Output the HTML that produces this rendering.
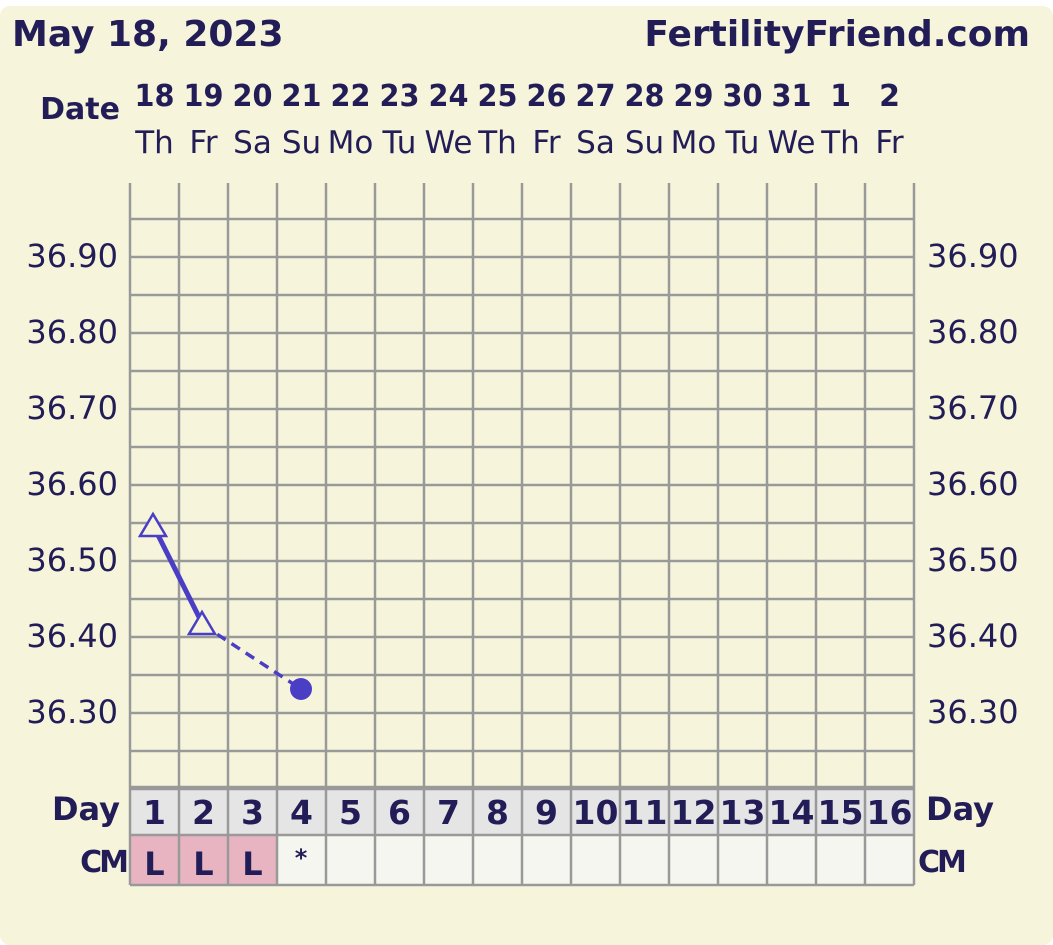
<!DOCTYPE html>
<html><head><style>
body{margin:0;background:#fff;}
svg{display:block}
</style></head><body>
<svg width="1053" height="945" xmlns="http://www.w3.org/2000/svg" font-family="'DejaVu Sans', 'Liberation Sans', sans-serif">
<rect x="0" y="0" width="1053" height="945" fill="#fff"/>
<rect x="0" y="6" width="1053" height="939" rx="10" fill="#f7f4dc"/>
<g fill="#221d56">
<text x="12" y="46" font-size="36" font-weight="bold">May 18, 2023</text>
<text x="1030" y="46" font-size="36" font-weight="bold" text-anchor="end">FertilityFriend.com</text>
<text x="120" y="119" font-size="30" font-weight="bold" text-anchor="end">Date</text>
</g>
<g id="dates" fill="#221d56" font-size="29" text-anchor="middle"></g>
<g id="grid"></g>
<g id="labels" fill="#221d56" font-size="32"></g>
<polyline points="154,527 203,625" stroke="#4a3fc4" stroke-width="5" fill="none"/>
<polyline points="203,625 301,689" stroke="#4a3fc4" stroke-width="3.5" fill="none" stroke-dasharray="10,7"/>
<polygon points="153,514 140,536 166,536" fill="#f7f4dc" stroke="#4a3fc4" stroke-width="2.5"/>
<polygon points="202,612 189,634 215,634" fill="#f7f4dc" stroke="#4a3fc4" stroke-width="2.5"/>
<circle cx="301" cy="689" r="11" fill="#4a3fc4"/>
<script>
var ns="http://www.w3.org/2000/svg";
function el(p,t,a,txt){var e=document.createElementNS(ns,t);for(var k in a)e.setAttribute(k,a[k]);if(txt!==undefined)e.textContent=txt;p.appendChild(e);return e;}
var d=["18","19","20","21","22","23","24","25","26","27","28","29","30","31","1","2"];
var w=["Th","Fr","Sa","Su","Mo","Tu","We","Th","Fr","Sa","Su","Mo","Tu","We","Th","Fr"];
var g=document.getElementById("dates"),gr=document.getElementById("grid"),lb=document.getElementById("labels");
var x0=130,cw=49;
for(var i=0;i<16;i++){var cx=x0+cw*i+cw/2;
el(g,"text",{x:cx,y:106,"font-weight":"bold","font-size":"30","textLength":d[i].length>1?"40":"","lengthAdjust":"spacingAndGlyphs"},d[i]);
el(g,"text",{x:cx,y:153,"font-size":"31"},w[i]);
el(gr,"rect",{x:x0+cw*i,y:787,width:cw,height:48,fill:"#e5e5e5"});
el(gr,"rect",{x:x0+cw*i,y:835,width:cw,height:50,fill:i<3?"#e8b4c2":"#f6f6f0"});
el(lb,"text",{x:cx,y:824,"font-weight":"bold","font-size":"33","text-anchor":"middle"},String(i+1));
if(i<3)el(lb,"text",{x:cx,y:875,"font-weight":"bold","font-size":"32","text-anchor":"middle"},"L");
}
el(lb,"text",{x:301,y:866,"font-weight":"bold","font-size":"24","text-anchor":"middle"},"*");
for(var i=0;i<=16;i++){el(gr,"line",{x1:x0+cw*i,y1:183,x2:x0+cw*i,y2:885,stroke:"#999","stroke-width":2.5});}
for(var y=219;y<=790;y+=38.0){el(gr,"line",{x1:x0,y1:Math.round(y),x2:914,y2:Math.round(y),stroke:"#999","stroke-width":2.5});}
el(gr,"line",{x1:x0,y1:787,x2:914,y2:787,stroke:"#999","stroke-width":2.5});
el(gr,"line",{x1:x0,y1:835,x2:914,y2:835,stroke:"#999","stroke-width":2.5});
el(gr,"line",{x1:x0,y1:885,x2:914,y2:885,stroke:"#999","stroke-width":2.5});
var t=["36.90","36.80","36.70","36.60","36.50","36.40","36.30"];
for(var k=0;k<7;k++){var yy=256+76*k+11;
el(lb,"text",{x:118,y:yy,"text-anchor":"end"},t[k]);
el(lb,"text",{x:927,y:yy},t[k]);}
el(lb,"text",{x:120,y:820,"font-weight":"bold","text-anchor":"end"},"Day");
el(lb,"text",{x:926,y:820,"font-weight":"bold"},"Day");
el(lb,"text",{x:126,y:872,"font-weight":"bold","text-anchor":"end","font-size":"30","letter-spacing":"-3"},"CM");
el(lb,"text",{x:918,y:872,"font-weight":"bold","font-size":"30","letter-spacing":"-3"},"CM");
</script>
</svg>
</body></html>
